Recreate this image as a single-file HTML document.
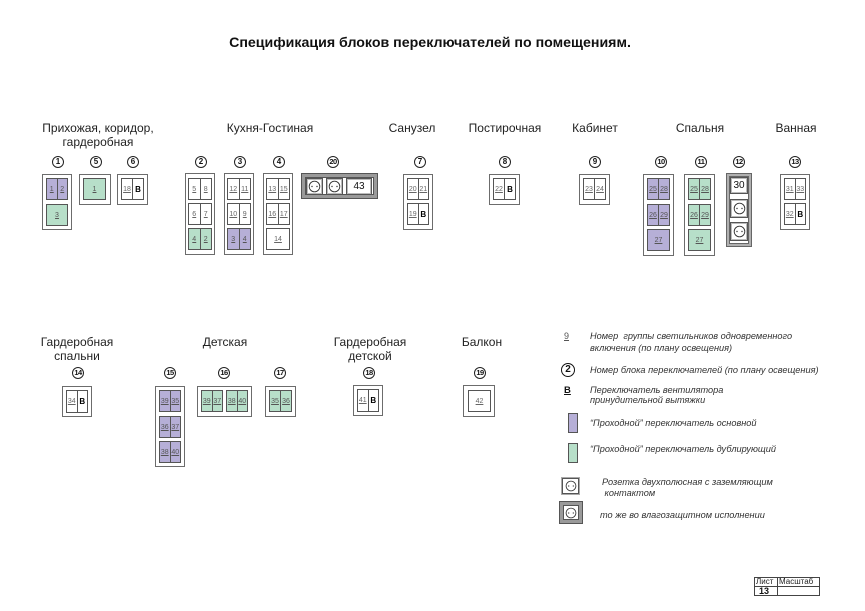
<!DOCTYPE html>
<html><head><meta charset="utf-8">
<style>
*{margin:0;padding:0;box-sizing:border-box}
body{width:865px;height:611px;background:#fff;position:relative;overflow:hidden;font-family:"Liberation Sans",Arial,sans-serif;color:#222}
.a{position:absolute}
.t{position:absolute;font-size:12px;color:#222;white-space:nowrap;line-height:14px;text-align:center}
.f{position:absolute;border:1px solid #6c6c6c;background:#fff}
.k{position:absolute;border:3px solid #9a9a9a;box-shadow:0 0 0 1px #555,inset 0 0 0 1px #555;background:#fff}
.k2{position:absolute;border:2px solid #b0b0b0;box-shadow:0 0 0 1px #666,inset 0 0 0 1px #666;background:#fff}
.c{position:absolute;border:1px solid #555;display:flex;background:#fff}
.c span{flex:1;display:flex;align-items:center;justify-content:center;font-size:7px;color:#666;text-decoration:underline}
.c span+span{border-left:1px solid #555}
.c span.b{color:#000;font-weight:bold;text-decoration:none;font-size:8px}
.p{background:#b6afd7}.p span{color:#555}
.g{background:#b7dfc9}.g span{color:#555}
.n{position:absolute;width:12px;height:12px;border:1px solid #222;border-radius:50%;font-size:8px;line-height:10px;text-align:center;color:#111;font-weight:bold}
.s{position:absolute;border:1px solid #555;box-shadow:inset 0 0 0 1px #bbb;background:#fff;display:flex;align-items:center;justify-content:center}
.lg{position:absolute;font-size:9.2px;font-style:italic;color:#333;white-space:nowrap;line-height:11px}
</style></head><body>

<div class="a" style="left:0;width:865px;top:35px;text-align:center;font-size:14.2px;font-weight:bold;color:#111;padding-right:5px">Спецификация блоков переключателей по помещениям.</div>

<!-- Row 1 labels -->
<div class="t" style="left:38px;width:120px;top:121px">Прихожая, коридор,<br>гардеробная</div>
<div class="t" style="left:210px;width:120px;top:121px">Кухня-Гостиная</div>
<div class="t" style="left:372px;width:80px;top:121px">Санузел</div>
<div class="t" style="left:455px;width:100px;top:121px">Постирочная</div>
<div class="t" style="left:555px;width:80px;top:121px">Кабинет</div>
<div class="t" style="left:660px;width:80px;top:121px">Спальня</div>
<div class="t" style="left:756px;width:80px;top:121px">Ванная</div>

<!-- Row 1 circles -->
<div class="n" style="left:52px;top:156px">1</div>
<div class="n" style="left:90px;top:156px">5</div>
<div class="n" style="left:127px;top:156px">6</div>
<div class="n" style="left:195px;top:156px">2</div>
<div class="n" style="left:234px;top:156px">3</div>
<div class="n" style="left:273px;top:156px">4</div>
<div class="n" style="left:327px;top:156px;font-size:7.5px;letter-spacing:-0.5px">20</div>
<div class="n" style="left:414px;top:156px">7</div>
<div class="n" style="left:499px;top:156px">8</div>
<div class="n" style="left:589px;top:156px">9</div>
<div class="n" style="left:655px;top:156px;font-size:7.5px;letter-spacing:-0.5px">10</div>
<div class="n" style="left:695px;top:156px;font-size:7.5px;letter-spacing:-0.5px">11</div>
<div class="n" style="left:733px;top:156px;font-size:7.5px;letter-spacing:-0.5px">12</div>
<div class="n" style="left:789px;top:156px;font-size:7.5px;letter-spacing:-0.5px">13</div>

<!-- Block 1 -->
<div class="f" style="left:42px;top:174px;width:30px;height:56px"></div>
<div class="c p" style="left:46px;top:178px;width:22px;height:22px"><span>1</span><span>2</span></div>
<div class="c g" style="left:46px;top:204px;width:22px;height:22px"><span>3</span></div>
<!-- Block 5 -->
<div class="f" style="left:79px;top:174px;width:32px;height:31px"></div>
<div class="c g" style="left:83px;top:178px;width:23px;height:22px"><span>1</span></div>
<!-- Block 6 -->
<div class="f" style="left:117px;top:174px;width:31px;height:31px"></div>
<div class="c" style="left:121px;top:178px;width:23px;height:22px"><span>18</span><span class="b">B</span></div>

<!-- Block 2 -->
<div class="f" style="left:185px;top:173px;width:30px;height:82px"></div>
<div class="c" style="left:188px;top:178px;width:24px;height:22px"><span>5</span><span>8</span></div>
<div class="c" style="left:188px;top:203px;width:24px;height:22px"><span>6</span><span>7</span></div>
<div class="c g" style="left:188px;top:228px;width:24px;height:22px"><span>4</span><span>2</span></div>
<!-- Block 3 -->
<div class="f" style="left:224px;top:173px;width:30px;height:82px"></div>
<div class="c" style="left:227px;top:178px;width:24px;height:22px"><span>12</span><span>11</span></div>
<div class="c" style="left:227px;top:203px;width:24px;height:22px"><span>10</span><span>9</span></div>
<div class="c p" style="left:227px;top:228px;width:24px;height:22px"><span>3</span><span>4</span></div>
<!-- Block 4 -->
<div class="f" style="left:263px;top:173px;width:30px;height:82px"></div>
<div class="c" style="left:266px;top:178px;width:24px;height:22px"><span>13</span><span>15</span></div>
<div class="c" style="left:266px;top:203px;width:24px;height:22px"><span>16</span><span>17</span></div>
<div class="c" style="left:266px;top:228px;width:24px;height:22px"><span>14</span></div>

<!-- Block 20 -->
<div class="k" style="left:302px;top:174px;width:75px;height:24px"></div>
<div class="s" style="left:306px;top:178px;width:17px;height:17px"><svg width="13" height="13" viewBox="0 0 13 13"><circle cx="6.5" cy="6.5" r="5.3" fill="none" stroke="#333" stroke-width="0.9"/><circle cx="4" cy="6.5" r="0.7" fill="#333"/><circle cx="9" cy="6.5" r="0.7" fill="#333"/></svg></div>
<div class="s" style="left:326px;top:178px;width:17px;height:17px"><svg width="13" height="13" viewBox="0 0 13 13"><circle cx="6.5" cy="6.5" r="5.3" fill="none" stroke="#333" stroke-width="0.9"/><circle cx="4" cy="6.5" r="0.7" fill="#333"/><circle cx="9" cy="6.5" r="0.7" fill="#333"/></svg></div>
<div class="s" style="left:346px;top:178px;width:26px;height:17px;font-size:10px;color:#111">43</div>

<!-- Block 7 -->
<div class="f" style="left:403px;top:174px;width:30px;height:56px"></div>
<div class="c" style="left:407px;top:178px;width:22px;height:22px"><span>20</span><span>21</span></div>
<div class="c" style="left:407px;top:203px;width:22px;height:22px"><span>19</span><span class="b">B</span></div>
<!-- Block 8 -->
<div class="f" style="left:489px;top:174px;width:31px;height:31px"></div>
<div class="c" style="left:493px;top:178px;width:23px;height:22px"><span>22</span><span class="b">B</span></div>
<!-- Block 9 -->
<div class="f" style="left:579px;top:174px;width:31px;height:31px"></div>
<div class="c" style="left:583px;top:178px;width:23px;height:22px"><span>23</span><span>24</span></div>

<!-- Block 10 -->
<div class="f" style="left:643px;top:174px;width:31px;height:82px"></div>
<div class="c p" style="left:647px;top:178px;width:23px;height:22px"><span>25</span><span>28</span></div>
<div class="c p" style="left:647px;top:204px;width:23px;height:22px"><span>26</span><span>29</span></div>
<div class="c p" style="left:647px;top:229px;width:23px;height:22px"><span>27</span></div>
<!-- Block 11 -->
<div class="f" style="left:684px;top:174px;width:31px;height:82px"></div>
<div class="c g" style="left:688px;top:178px;width:23px;height:22px"><span>25</span><span>28</span></div>
<div class="c g" style="left:688px;top:204px;width:23px;height:22px"><span>26</span><span>29</span></div>
<div class="c g" style="left:688px;top:229px;width:23px;height:22px"><span>27</span></div>
<!-- Block 12 -->
<div class="k2" style="left:727px;top:174px;width:24px;height:72px"></div>
<div class="s" style="left:730px;top:177px;width:18px;height:17px;font-size:10px;color:#111">30</div>
<div class="s" style="left:730px;top:199px;width:18px;height:19px"><svg width="13" height="13" viewBox="0 0 13 13"><circle cx="6.5" cy="6.5" r="5.3" fill="none" stroke="#333" stroke-width="0.9"/><circle cx="4" cy="6.5" r="0.7" fill="#333"/><circle cx="9" cy="6.5" r="0.7" fill="#333"/></svg></div>
<div class="s" style="left:730px;top:222px;width:18px;height:19px"><svg width="13" height="13" viewBox="0 0 13 13"><circle cx="6.5" cy="6.5" r="5.3" fill="none" stroke="#333" stroke-width="0.9"/><circle cx="4" cy="6.5" r="0.7" fill="#333"/><circle cx="9" cy="6.5" r="0.7" fill="#333"/></svg></div>
<!-- Block 13 -->
<div class="f" style="left:780px;top:174px;width:30px;height:56px"></div>
<div class="c" style="left:784px;top:178px;width:22px;height:22px"><span>31</span><span>33</span></div>
<div class="c" style="left:784px;top:203px;width:22px;height:22px"><span>32</span><span class="b">B</span></div>

<!-- Row 2 labels -->
<div class="t" style="left:27px;width:100px;top:335px">Гардеробная<br>спальни</div>
<div class="t" style="left:185px;width:80px;top:335px">Детская</div>
<div class="t" style="left:320px;width:100px;top:335px">Гардеробная<br>детской</div>
<div class="t" style="left:442px;width:80px;top:335px">Балкон</div>

<!-- Row 2 circles -->
<div class="n" style="left:72px;top:367px;font-size:7.5px;letter-spacing:-0.5px">14</div>
<div class="n" style="left:164px;top:367px;font-size:7.5px;letter-spacing:-0.5px">15</div>
<div class="n" style="left:218px;top:367px;font-size:7.5px;letter-spacing:-0.5px">16</div>
<div class="n" style="left:274px;top:367px;font-size:7.5px;letter-spacing:-0.5px">17</div>
<div class="n" style="left:363px;top:367px;font-size:7.5px;letter-spacing:-0.5px">18</div>
<div class="n" style="left:474px;top:367px;font-size:7.5px;letter-spacing:-0.5px">19</div>

<!-- Block 14 -->
<div class="f" style="left:62px;top:386px;width:30px;height:31px"></div>
<div class="c" style="left:66px;top:390px;width:22px;height:23px"><span>34</span><span class="b">B</span></div>
<!-- Block 15 -->
<div class="f" style="left:155px;top:386px;width:30px;height:81px"></div>
<div class="c p" style="left:159px;top:390px;width:22px;height:22px"><span>39</span><span>35</span></div>
<div class="c p" style="left:159px;top:416px;width:22px;height:22px"><span>36</span><span>37</span></div>
<div class="c p" style="left:159px;top:441px;width:22px;height:22px"><span>38</span><span>40</span></div>
<!-- Block 16 -->
<div class="f" style="left:197px;top:386px;width:55px;height:31px"></div>
<div class="c g" style="left:201px;top:390px;width:22px;height:22px"><span>39</span><span>37</span></div>
<div class="c g" style="left:226px;top:390px;width:22px;height:22px"><span>38</span><span>40</span></div>
<!-- Block 17 -->
<div class="f" style="left:265px;top:386px;width:31px;height:31px"></div>
<div class="c g" style="left:269px;top:390px;width:23px;height:22px"><span>35</span><span>36</span></div>
<!-- Block 18 -->
<div class="f" style="left:353px;top:385px;width:30px;height:31px"></div>
<div class="c" style="left:357px;top:389px;width:22px;height:23px"><span>41</span><span class="b">B</span></div>
<!-- Block 19 -->
<div class="f" style="left:463px;top:385px;width:32px;height:32px"></div>
<div class="c" style="left:468px;top:390px;width:23px;height:22px"><span>42</span></div>

<!-- Legend -->
<div class="a" style="left:564px;top:331px;font-size:9px;color:#555;text-decoration:underline">9</div>
<div class="lg" style="left:590px;top:331px">Номер&nbsp; группы светильников одновременного</div>
<div class="lg" style="left:590px;top:343px">включения (по плану освещения)</div>

<div class="a" style="left:561px;top:363px;width:14px;height:14px;border:1.2px solid #111;border-radius:50%;font-size:10px;font-weight:bold;line-height:12px;text-align:center;color:#111">2</div>
<div class="lg" style="left:590px;top:365px">Номер блока переключателей (по плану освещения)</div>

<div class="a" style="left:564px;top:385px;font-size:9.5px;font-weight:bold;color:#111;text-decoration:underline">B</div>
<div class="lg" style="left:590px;top:385px">Переключатель вентилятора</div>
<div class="lg" style="left:590px;top:395px">принудительной вытяжки</div>

<div class="a" style="left:568px;top:413px;width:10px;height:20px;border:1px solid #555;background:#b6afd7"></div>
<div class="lg" style="left:590px;top:418px">“Проходной” переключатель основной</div>
<div class="a" style="left:568px;top:443px;width:10px;height:20px;border:1px solid #555;background:#b7dfc9"></div>
<div class="lg" style="left:590px;top:444px">“Проходной” переключатель дублирующий</div>

<div class="s" style="left:562px;top:478px;width:17px;height:16px;box-shadow:0 0 0 1px #aaa"><svg width="12" height="12" viewBox="0 0 13 13"><circle cx="6.5" cy="6.5" r="5.3" fill="none" stroke="#333" stroke-width="0.9"/><circle cx="4" cy="6.5" r="0.7" fill="#333"/><circle cx="9" cy="6.5" r="0.7" fill="#333"/></svg></div>
<div class="lg" style="left:602px;top:477px">Розетка двухполюсная с заземляющим</div>
<div class="lg" style="left:602px;top:488px">&nbsp;контактом</div>

<div class="k" style="left:560px;top:502px;width:22px;height:21px;display:flex;align-items:center;justify-content:center"><svg width="12" height="12" viewBox="0 0 13 13"><circle cx="6.5" cy="6.5" r="5.3" fill="none" stroke="#333" stroke-width="0.9"/><circle cx="4" cy="6.5" r="0.7" fill="#333"/><circle cx="9" cy="6.5" r="0.7" fill="#333"/></svg></div>
<div class="lg" style="left:600px;top:510px">то же во влагозащитном исполнении</div>

<!-- Stamp -->
<div class="a" style="left:754px;top:577px;width:66px;height:19px;border:1px solid #444"></div>
<div class="a" style="left:777px;top:577px;width:1px;height:19px;background:#444"></div>
<div class="a" style="left:754px;top:586px;width:66px;height:1px;background:#444"></div>
<div class="a" style="left:756px;top:577px;font-size:8px;color:#222;line-height:9px">Лист</div>
<div class="a" style="left:779px;top:577px;font-size:8px;color:#222;line-height:9px">Масштаб</div>
<div class="a" style="left:759px;top:587px;font-size:9px;font-weight:bold;color:#111;line-height:9px">13</div>

</body></html>
